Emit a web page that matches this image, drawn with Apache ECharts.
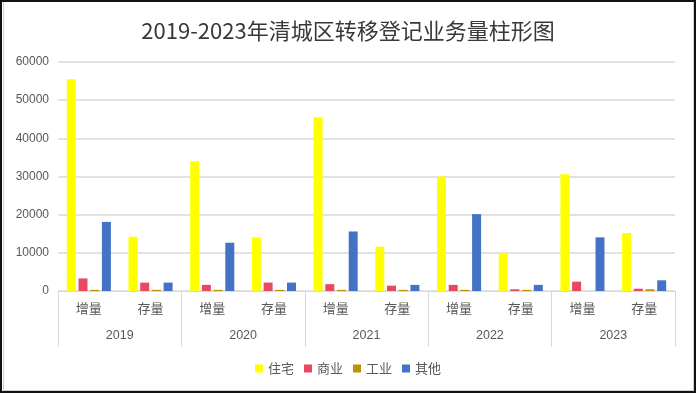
<!DOCTYPE html>
<html><head><meta charset="utf-8">
<script src="https://cdn.jsdelivr.net/npm/echarts@6/dist/echarts.min.js"></script>
<style>
html,body{margin:0;padding:0;background:#fff;}
#frame{position:absolute;left:0;top:0;width:696px;height:393px;box-sizing:border-box;border:2px solid #111;}
#inner{position:absolute;left:1px;top:0;width:689px;height:388px;border-left:1px solid #d0d0d0;border-right:1px solid #d0d0d0;border-bottom:1px solid #d0d0d0;}
#chart{position:absolute;left:0;top:0;width:696px;height:393px;}
</style></head>
<body>
<div id="frame"><div id="inner"></div></div>
<div id="chart"></div>
<script>
const years = ['2019','2020','2021','2022','2023'];
const subCats = ['增量','存量','增量','存量','增量','存量','增量','存量','增量','存量'];
const seriesNames = ['住宅','商业','工业','其他'];
const residential = [55500,14200,34000,14050,45500,11600,30000,10000,30600,15200];
const commercial  = [3300,2200,1600,2200,1800,1400,1600,450,2450,600];
const industrial  = [300,300,300,300,300,300,300,300,0,450];
const other       = [18100,2200,12650,2200,15600,1600,20150,1600,14050,2800];
const yTicks = [0,10000,20000,30000,40000,50000,60000];
const colors = ['#FFFF00','#E8495E','#BF9000','#4472C4'];

const values = [residential, commercial, industrial, other];
const chart = echarts.init(document.getElementById('chart'));
chart.setOption({
  animation:false,
  title:{text:'2019-2023年清城区转移登记业务量柱形图',left:'center',top:15,
    textStyle:{fontFamily:'Noto Sans CJK SC',fontSize:22,fontWeight:'normal',color:'#383838'}},
  legend:{data:seriesNames,bottom:13,left:'center',itemWidth:8,itemHeight:8,itemGap:10,icon:'rect',
    textStyle:{fontFamily:'Noto Sans CJK SC',fontSize:13,color:'#595959'}},
  grid:{left:58,right:21,top:62,bottom:102,containLabel:false},
  xAxis:[
    {type:'category',data:subCats,position:'bottom',
     axisLine:{lineStyle:{color:'#d9d9d9',width:1}},axisTick:{show:false},
     axisLabel:{interval:0,margin:11,fontFamily:'Noto Sans CJK SC',fontSize:13,color:'#595959'}},
    {type:'category',data:years,position:'bottom',
     axisLine:{show:true,lineStyle:{color:'#d9d9d9',width:1}},
     axisTick:{show:true,interval:0,length:56,lineStyle:{color:'#d9d9d9',width:1}},
     axisLabel:{interval:0,margin:38,fontFamily:'Liberation Sans',fontSize:12.5,color:'#595959'}}
  ],
  yAxis:{type:'value',min:yTicks[0],max:yTicks[yTicks.length-1],interval:10000,
    axisLine:{show:false},axisTick:{show:false},
    axisLabel:{margin:9,fontFamily:'Liberation Sans',fontSize:12,color:'#595959',formatter:v=>String(v)},
    splitLine:{lineStyle:{color:'#d9d9d9',width:1.5}}},
  series: seriesNames.map((n,i)=>({
    name:n,type:'bar',xAxisIndex:0,data:values[i],barWidth:9,barGap:'30%',
    itemStyle:{color:colors[i]}
  }))
});
</script>
</body></html>
